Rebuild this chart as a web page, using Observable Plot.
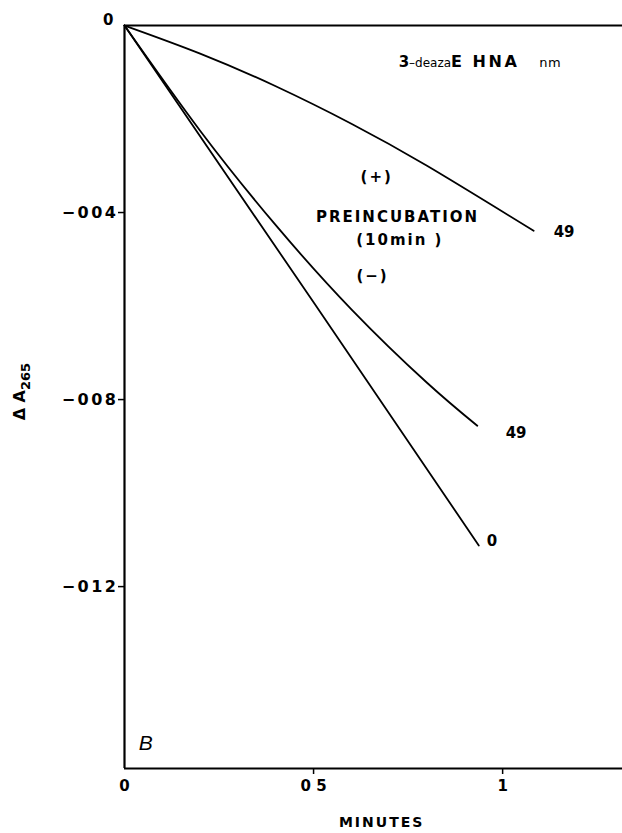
<!DOCTYPE html>
<html><head><meta charset="utf-8">
<script src="https://cdn.jsdelivr.net/npm/d3@7"></script>
<script src="https://cdn.jsdelivr.net/npm/@observablehq/plot@0.6"></script>
<style>body{margin:0;background:#fff}</style>
</head><body><div id="chart"></div>
<script>
// (+) preincubation, 49 nM 3-deazaEHNA
const timePre = [0, 0.2, 0.4, 0.6, 0.8, 1.082];
const dAPre = [0, -0.0006, -0.0013, -0.0021, -0.003, -0.00439];
// (-) preincubation, 49 nM
const timeNo49 = [0, 0.2, 0.4, 0.6, 0.8, 0.933];
const dANo49 = [0, -0.00225, -0.00427, -0.00607, -0.00764, -0.00856];
// control, 0 nM
const timeNo0 = [0, 0.5, 0.937];
const dANo0 = [0, -0.00592, -0.01112];

const yTicks = [-0.004, -0.008, -0.012];
const xTicks = [0.5, 1];
const xMax = 1.317, yMin = -0.01589;

const endLabels = ["49", "49", "0"];
const endX = [1.135, 1.008, 0.958];
const endY = [-0.00443, -0.00871, -0.01102];

const noteTexts = ["(+)", "PREINCUBATION", "(10min )", "(−)"];
const noteX = [0.667, 0.722, 0.728, 0.656];
const noteY = [-0.00325, -0.00411, -0.0046, -0.00537];

const titleText = "3–deazaEHNA nm";
const yLabel = "ΔA265";
const xLabel = "MINUTES";
const panelLabel = "B";

const series = [
  ...timePre.map((t, i) => ({t, v: dAPre[i], s: "pre49"})),
  ...timeNo49.map((t, i) => ({t, v: dANo49[i], s: "no49"})),
  ...timeNo0.map((t, i) => ({t, v: dANo0[i], s: "no0"}))
];
const ends = endLabels.map((l, i) => ({l, x: endX[i], y: endY[i]}));
const notes = noteTexts.map((l, i) => ({l, x: noteX[i], y: noteY[i]}));

const F = "DejaVu Sans";
const chart = Plot.plot({
  width: 622, height: 833,
  marginLeft: 124, marginRight: 0, marginTop: 25, marginBottom: 65,
  x: {domain: [0, xMax]},
  y: {domain: [yMin, 0]},
  style: {fontFamily: F, background: "white", color: "black"},
  marks: [
    Plot.ruleX([0], {strokeWidth: 2.2}),
    Plot.ruleY([0, yMin], {strokeWidth: 2.2}),
    Plot.axisY({ticks: yTicks, tickSize: 6, tickPadding: 0, strokeWidth: 1.5,
      tickFormat: d => "−" + String(Math.round(-d * 1000)).padStart(3, "0"),
      fontSize: 16, fontWeight: "bold", label: null}),
    Plot.axisY({ticks: [0], tickSize: 0, tickPadding: 11, dy: -5,
      tickFormat: d => "0", fontSize: 15, fontWeight: "bold", label: null}),
    Plot.axisX({ticks: xTicks, tickSize: 6, tickPadding: 6, strokeWidth: 1.5,
      tickFormat: d => d === 0.5 ? "0 5" : String(d), fontSize: 15, fontWeight: "bold", label: null}),
    Plot.axisX({ticks: [0], tickSize: 0, tickPadding: 12,
      tickFormat: d => "0", fontSize: 15, fontWeight: "bold", label: null}),
    Plot.line(series, {x: "t", y: "v", z: "s", curve: "natural", stroke: "black", strokeWidth: 1.8}),
    Plot.text(ends, {x: "x", y: "y", text: "l", textAnchor: "start", fontSize: 15, fontWeight: "bold"}),
    Plot.text(notes, {x: "x", y: "y", text: "l", fontSize: 15, fontWeight: "bold"}),
    Plot.text([titleText], {x: 0.725, y: -0.00079, text: d => d, textAnchor: "start", fontSize: 14}),
    Plot.text([panelLabel], {x: 0.056, y: -0.01536, text: d => d, fontSize: 21, fontStyle: "italic", fontFamily: "Liberation Sans"}),
    Plot.text([xLabel], {x: 0.68, frameAnchor: "bottom", dy: 54, lineAnchor: "middle", textAnchor: "middle", text: d => d, fontSize: 14, fontWeight: "bold"}),
    Plot.text([yLabel], {y: -0.00783, frameAnchor: "left", dx: -105, rotate: -90, textAnchor: "middle", lineAnchor: "middle", text: d => d, fontSize: 16, fontWeight: "bold"})
  ]
});
document.getElementById("chart").appendChild(chart);

// letter spacing and rich-text styling
const NS = "http://www.w3.org/2000/svg";
chart.querySelectorAll("text").forEach(el => {
  const s = el.textContent;
  if (/^−\d{3}$/.test(s)) el.style.letterSpacing = "2.5px";
  else if (noteTexts.includes(s) || s === xLabel) el.style.letterSpacing = "2px";
  else if (endLabels.includes(s) && el.getAttribute("text-anchor") === "start") el.style.letterSpacing = "1px";
  if (s === titleText) {
    el.textContent = "";
    const parts = [["3", 15, "bold", 0, 0], ["–deaza", 12, "normal", 0, 0], ["E HNA", 16, "bold", 0, 2.5], ["nm", 13, "normal", 20, 0.5]];
    parts.forEach(([t, fs, fw, dx, ls]) => {
      const ts = document.createElementNS(NS, "tspan");
      ts.textContent = t; ts.setAttribute("font-size", fs); ts.setAttribute("font-weight", fw);
      if (dx) ts.setAttribute("dx", dx);
      if (ls) ts.style.letterSpacing = ls + "px";
      el.appendChild(ts);
    });
  } else if (s === yLabel) {
    el.textContent = "";
    const a = document.createElementNS(NS, "tspan");
    a.textContent = "Δ A";
    const b = document.createElementNS(NS, "tspan");
    b.textContent = "265"; b.setAttribute("font-size", 13); b.setAttribute("dy", 5);
    el.appendChild(a); el.appendChild(b);
  }
});
</script>
</body></html>
